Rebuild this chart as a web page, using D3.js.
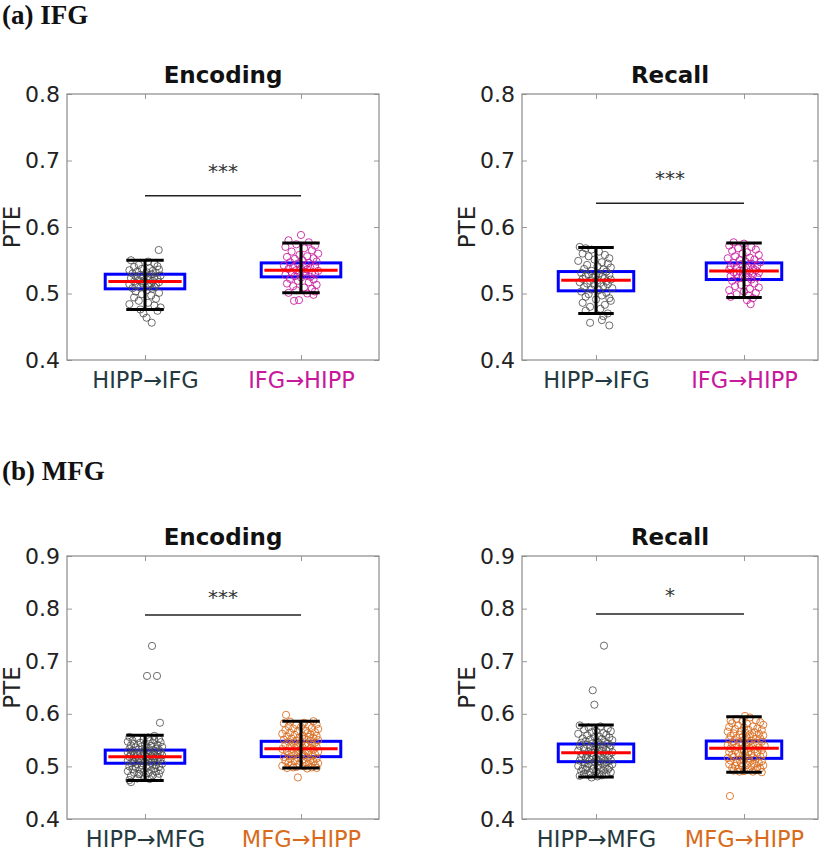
<!DOCTYPE html>
<html><head><meta charset="utf-8">
<script src="https://cdn.jsdelivr.net/npm/d3@7"></script>
<style>body{margin:0;background:#fff}svg{display:block}</style>
</head><body>
<svg id="chart" width="822" height="852"></svg>
<script>
// ---------------- DATA ----------------
const categoriesIFG = ["HIPP→IFG", "IFG→HIPP"];
const categoriesMFG = ["HIPP→MFG", "MFG→HIPP"];
const yTicksIFG = [0.4, 0.5, 0.6, 0.7, 0.8];
const yTicksMFG = [0.4, 0.5, 0.6, 0.7, 0.8, 0.9];
const panelTitles = ["Encoding", "Recall"];
const sectionLabels = ["(a) IFG", "(b) MFG"];

// box stats: [whisker low, q1, median, q3, whisker high]
const statsIfgEnc = [[0.476, 0.507, 0.518, 0.529, 0.550], [0.501, 0.525, 0.535, 0.546, 0.576]];
const statsIfgRec = [[0.470, 0.504, 0.520, 0.533, 0.569], [0.494, 0.521, 0.534, 0.546, 0.576]];
const statsMfgEnc = [[0.473, 0.506, 0.5185, 0.531, 0.559], [0.497, 0.5185, 0.5337, 0.5477, 0.5857]];
const statsMfgRec = [[0.480, 0.509, 0.526, 0.5426, 0.5787], [0.489, 0.5153, 0.5344, 0.5483, 0.5945]];

// significance bars: [height, label]
const sigIfgEnc = [0.647, "***"];
const sigIfgRec = [0.6356, "***"];
const sigMfgEnc = [0.7878, "***"];
const sigMfgRec = [0.7897, "*"];

// individual points: [jitter offset (category units), PTE]
const ptsIfgEncA = [[0.088,0.5654],[0.01,0.4636],[0.043,0.4561],[-0.09,0.550],[0.02,0.548],[0.06,0.545],[-0.04,0.543],[0.08,0.541],[-0.07,0.540],[0.03,0.538],[-0.02,0.537],[0.09,0.536],[-0.10,0.535],[0.05,0.534],[-0.05,0.533],[0.01,0.532],[0.07,0.531],[-0.08,0.530],[0.04,0.529],[-0.03,0.528],[0.10,0.527],[-0.06,0.526],[0.02,0.526],[0.06,0.525],[-0.01,0.524],[-0.09,0.523],[0.08,0.522],[0.03,0.521],[-0.04,0.520],[0.05,0.519],[-0.07,0.518],[0.00,0.518],[0.09,0.517],[-0.02,0.516],[0.04,0.515],[-0.10,0.514],[0.07,0.513],[-0.05,0.512],[0.02,0.511],[0.06,0.510],[-0.03,0.509],[-0.08,0.508],[0.05,0.507],[0.01,0.505],[-0.06,0.503],[0.09,0.501],[-0.02,0.499],[0.04,0.497],[-0.07,0.494],[0.07,0.492],[-0.04,0.489],[0.02,0.486],[-0.10,0.484],[0.06,0.482],[0.10,0.479],[-0.03,0.476],[0.08,0.474],[-0.01,0.470]];
const ptsIfgEncB = [[0,0.588],[-0.08,0.580],[0.05,0.577],[-0.03,0.574],[0.09,0.572],[-0.10,0.570],[0.02,0.568],[0.07,0.565],[-0.06,0.563],[0.11,0.560],[-0.01,0.558],[0.04,0.556],[-0.09,0.555],[0.08,0.553],[-0.04,0.552],[0.01,0.550],[0.10,0.548],[-0.07,0.547],[0.05,0.546],[-0.02,0.545],[0.03,0.543],[-0.11,0.542],[0.09,0.541],[-0.05,0.540],[0.06,0.539],[0.00,0.538],[-0.08,0.537],[0.04,0.536],[-0.03,0.535],[0.11,0.534],[0.02,0.533],[-0.06,0.532],[0.07,0.531],[-0.01,0.530],[0.09,0.529],[-0.10,0.528],[0.03,0.527],[-0.04,0.526],[0.06,0.525],[0.00,0.524],[-0.07,0.522],[0.08,0.521],[-0.02,0.519],[0.05,0.517],[-0.09,0.515],[0.10,0.513],[-0.05,0.511],[0.02,0.509],[0.07,0.507],[-0.03,0.505],[0.09,0.503],[-0.08,0.501],[0.04,0.500],[-0.045,0.489],[-0.013,0.490],[0.08,0.498]];
const ptsIfgRecA = [[-0.11,0.570],[-0.07,0.568],[-0.03,0.566],[0.02,0.563],[-0.09,0.560],[0.06,0.558],[-0.05,0.556],[0.09,0.553],[-0.01,0.551],[-0.12,0.549],[0.04,0.547],[0.08,0.545],[-0.06,0.543],[0.01,0.541],[0.10,0.539],[-0.08,0.537],[0.05,0.536],[-0.03,0.534],[0.07,0.533],[-0.10,0.531],[0.02,0.530],[-0.05,0.529],[0.09,0.528],[0.00,0.527],[-0.07,0.526],[0.04,0.525],[-0.02,0.524],[0.06,0.523],[-0.09,0.522],[0.10,0.521],[0.01,0.520],[-0.04,0.519],[0.07,0.518],[-0.11,0.517],[0.03,0.516],[-0.06,0.515],[0.08,0.514],[-0.01,0.513],[0.05,0.511],[-0.08,0.510],[0.11,0.508],[-0.03,0.506],[0.02,0.505],[-0.10,0.503],[0.07,0.501],[-0.05,0.499],[0.04,0.497],[-0.07,0.495],[0.09,0.493],[0.00,0.491],[0.10,0.489],[-0.09,0.486],[0.06,0.483],[-0.04,0.480],[0.03,0.477],[-0.07,0.474],[0.08,0.470],[0.05,0.466],[-0.04,0.456],[0.09,0.452],[0.04,0.460]];
const ptsIfgRecB = [[-0.07,0.577],[0.00,0.575],[-0.10,0.572],[0.05,0.570],[-0.04,0.568],[0.08,0.566],[-0.08,0.564],[0.02,0.562],[-0.01,0.560],[0.10,0.558],[-0.06,0.556],[0.04,0.554],[-0.11,0.553],[0.07,0.551],[-0.03,0.550],[0.01,0.548],[0.11,0.547],[-0.07,0.546],[0.05,0.545],[-0.02,0.544],[0.09,0.542],[-0.09,0.541],[0.03,0.540],[-0.05,0.539],[0.06,0.538],[0.00,0.537],[-0.10,0.536],[0.08,0.535],[-0.03,0.534],[0.04,0.533],[-0.07,0.532],[0.10,0.531],[0.01,0.530],[-0.05,0.529],[0.06,0.528],[-0.01,0.527],[-0.09,0.526],[0.03,0.525],[0.09,0.524],[-0.04,0.523],[0.05,0.521],[-0.08,0.519],[0.02,0.517],[0.07,0.515],[-0.02,0.513],[-0.06,0.511],[0.10,0.509],[0.04,0.507],[-0.10,0.505],[0.00,0.503],[0.08,0.501],[-0.05,0.499],[0.03,0.497],[-0.09,0.495],[0.06,0.493],[0.045,0.484],[0.02,0.490]];
const ptsMfgEncA = [[0.045,0.729],[0.013,0.672],[0.077,0.672],[0.096,0.583],[-0.09,0.470],[0.06,0.558],[-0.10,0.556],[0.02,0.555],[-0.05,0.553],[0.09,0.552],[-0.01,0.551],[0.06,0.550],[-0.08,0.549],[0.03,0.548],[-0.11,0.547],[0.10,0.546],[-0.03,0.545],[0.05,0.544],[-0.07,0.543],[0.00,0.542],[0.08,0.541],[-0.09,0.540],[0.04,0.539],[-0.02,0.538],[0.11,0.537],[-0.06,0.536],[0.01,0.535],[0.07,0.534],[-0.10,0.533],[-0.04,0.532],[0.09,0.531],[0.03,0.530],[-0.08,0.530],[0.06,0.529],[-0.01,0.528],[-0.11,0.527],[0.10,0.527],[0.02,0.526],[-0.05,0.525],[0.08,0.525],[-0.03,0.524],[0.05,0.523],[-0.09,0.523],[0.00,0.522],[0.11,0.521],[-0.07,0.521],[0.04,0.520],[-0.02,0.519],[0.07,0.519],[-0.10,0.518],[0.01,0.518],[-0.06,0.517],[0.09,0.517],[0.03,0.516],[-0.04,0.515],[0.06,0.515],[-0.08,0.514],[-0.01,0.513],[0.10,0.513],[0.02,0.512],[-0.11,0.511],[0.05,0.511],[-0.03,0.510],[0.08,0.509],[-0.07,0.508],[0.00,0.508],[0.04,0.507],[-0.09,0.506],[0.11,0.505],[-0.05,0.504],[0.07,0.503],[-0.02,0.502],[0.03,0.501],[-0.10,0.500],[0.09,0.499],[-0.06,0.498],[0.01,0.497],[0.06,0.496],[-0.08,0.495],[-0.03,0.494],[0.10,0.493],[0.04,0.492],[-0.11,0.491],[0.07,0.490],[-0.01,0.489],[-0.07,0.488],[0.02,0.487],[0.09,0.486],[-0.04,0.485],[0.05,0.483],[-0.09,0.482],[0.00,0.480],[0.08,0.479],[-0.05,0.477],[0.03,0.476],[-0.10,0.474],[-0.035,0.486]];
const ptsMfgEncB = [[-0.096,0.598],[-0.02,0.479],[0.08,0.586],[-0.07,0.585],[0.02,0.583],[-0.11,0.582],[0.10,0.580],[-0.03,0.579],[0.05,0.577],[-0.08,0.576],[0.00,0.575],[0.07,0.573],[-0.05,0.572],[0.11,0.571],[-0.10,0.569],[0.03,0.568],[-0.02,0.567],[0.09,0.565],[-0.07,0.564],[0.04,0.563],[-0.12,0.562],[0.06,0.561],[-0.04,0.560],[0.01,0.559],[0.10,0.558],[-0.09,0.557],[0.05,0.556],[-0.01,0.555],[0.08,0.554],[-0.06,0.553],[0.02,0.552],[-0.11,0.551],[0.11,0.550],[-0.03,0.549],[0.06,0.548],[-0.08,0.547],[0.00,0.546],[0.09,0.545],[-0.05,0.544],[0.03,0.543],[-0.10,0.542],[0.07,0.541],[-0.02,0.540],[0.04,0.539],[-0.07,0.538],[0.10,0.537],[0.01,0.536],[-0.04,0.535],[0.06,0.534],[-0.12,0.533],[0.08,0.532],[-0.01,0.531],[0.03,0.530],[-0.09,0.529],[0.11,0.528],[-0.06,0.527],[0.05,0.526],[-0.03,0.525],[0.00,0.524],[0.09,0.523],[-0.08,0.522],[0.02,0.521],[-0.05,0.520],[0.07,0.519],[-0.11,0.518],[0.04,0.517],[-0.02,0.516],[0.10,0.515],[-0.07,0.514],[0.01,0.513],[0.06,0.512],[-0.10,0.511],[-0.04,0.510],[0.08,0.509],[0.03,0.508],[-0.08,0.507],[0.11,0.506],[-0.01,0.505],[0.05,0.504],[-0.06,0.503],[0.09,0.502],[-0.12,0.501],[0.02,0.500],[-0.03,0.499],[0.07,0.498],[-0.09,0.497],[0.04,0.496],[0.10,0.497],[-0.05,0.498]];
const ptsMfgRecA = [[0.054,0.7295],[-0.022,0.6447],[-0.011,0.6173],[-0.11,0.578],[0.03,0.576],[-0.05,0.574],[0.08,0.572],[-0.08,0.570],[0.00,0.568],[0.10,0.567],[-0.03,0.565],[0.05,0.563],[-0.12,0.562],[0.07,0.560],[-0.06,0.559],[0.02,0.557],[-0.01,0.556],[0.09,0.555],[-0.09,0.553],[0.04,0.552],[-0.04,0.551],[0.11,0.550],[-0.07,0.548],[0.01,0.547],[0.06,0.546],[-0.10,0.545],[-0.02,0.544],[0.08,0.543],[0.03,0.542],[-0.06,0.541],[0.10,0.540],[-0.11,0.539],[0.00,0.538],[0.05,0.537],[-0.04,0.536],[0.09,0.535],[-0.08,0.534],[0.02,0.533],[-0.01,0.532],[0.07,0.531],[-0.12,0.530],[0.04,0.529],[-0.05,0.528],[0.11,0.527],[-0.03,0.526],[0.01,0.525],[-0.09,0.524],[0.06,0.523],[-0.06,0.522],[0.09,0.521],[0.03,0.520],[-0.02,0.519],[-0.10,0.518],[0.08,0.517],[-0.07,0.516],[0.00,0.515],[0.05,0.514],[-0.04,0.513],[0.10,0.512],[-0.11,0.511],[0.02,0.510],[-0.01,0.509],[0.07,0.508],[-0.08,0.507],[0.04,0.506],[-0.05,0.505],[0.11,0.504],[-0.03,0.503],[0.01,0.502],[-0.12,0.501],[0.06,0.500],[-0.06,0.499],[0.09,0.498],[0.03,0.497],[-0.09,0.496],[-0.02,0.495],[0.08,0.494],[-0.07,0.493],[0.05,0.492],[-0.10,0.491],[0.00,0.490],[0.10,0.489],[-0.04,0.488],[0.02,0.487],[-0.08,0.486],[0.07,0.485],[-0.05,0.484],[0.04,0.483],[-0.11,0.482],[0.01,0.481],[-0.03,0.479]];
const ptsMfgRecB = [[-0.095,0.4437],[0.007,0.596],[-0.09,0.587],[0.04,0.593],[-0.05,0.590],[0.08,0.588],[-0.01,0.586],[0.11,0.584],[-0.08,0.582],[0.02,0.581],[0.13,0.579],[-0.04,0.578],[0.06,0.576],[-0.10,0.575],[0.00,0.574],[0.09,0.572],[-0.06,0.571],[0.03,0.570],[0.12,0.569],[-0.02,0.567],[-0.11,0.566],[0.07,0.565],[0.01,0.564],[-0.07,0.563],[0.10,0.562],[0.04,0.561],[-0.03,0.560],[0.13,0.559],[-0.09,0.558],[0.06,0.557],[-0.01,0.556],[0.02,0.555],[-0.05,0.554],[0.11,0.553],[0.08,0.552],[-0.10,0.551],[0.00,0.550],[0.05,0.549],[-0.07,0.548],[0.12,0.547],[-0.03,0.546],[0.03,0.545],[0.09,0.544],[-0.08,0.543],[-0.01,0.542],[0.06,0.541],[-0.11,0.540],[0.14,0.539],[0.01,0.538],[-0.05,0.537],[0.10,0.536],[0.04,0.535],[-0.09,0.534],[-0.02,0.533],[0.07,0.532],[0.12,0.531],[-0.06,0.530],[0.00,0.529],[0.03,0.528],[-0.10,0.527],[0.09,0.526],[-0.04,0.525],[0.05,0.524],[0.13,0.523],[-0.08,0.522],[0.01,0.521],[-0.01,0.520],[0.11,0.519],[-0.07,0.518],[0.06,0.517],[-0.11,0.516],[0.03,0.515],[0.08,0.514],[-0.03,0.513],[0.00,0.512],[-0.09,0.511],[0.12,0.510],[0.04,0.509],[-0.05,0.508],[0.10,0.507],[-0.02,0.506],[0.07,0.505],[-0.10,0.504],[0.02,0.503],[0.13,0.502],[-0.06,0.501],[0.05,0.500],[-0.01,0.499],[0.09,0.498],[-0.08,0.497],[0.11,0.496],[-0.04,0.495],[0.03,0.494],[0.08,0.493],[-0.07,0.492],[0.00,0.491],[0.06,0.490],[0.12,0.489],[-0.03,0.490]];

// ---------------- STYLE / LAYOUT ----------------
const colHipp = "#4a4a4a", labHipp = "#243a40";
const colIFG = "#c8189c", colMFG = "#d86b1c";
const FONT = "'DejaVu Sans', sans-serif";

const panels = [
  {L:67, R:379, T:94, B:360, title:panelTitles[0], ticks:yTicksIFG, cats:categoriesIFG, stats:statsIfgEnc, sig:sigIfgEnc, pts:[ptsIfgEncA, ptsIfgEncB], col2:colIFG, sigOff:30},
  {L:522, R:818, T:94, B:360, title:panelTitles[1], ticks:yTicksIFG, cats:categoriesIFG, stats:statsIfgRec, sig:sigIfgRec, pts:[ptsIfgRecA, ptsIfgRecB], col2:colIFG, sigOff:30},
  {L:67, R:379, T:556, B:819, title:panelTitles[0], ticks:yTicksMFG, cats:categoriesMFG, stats:statsMfgEnc, sig:sigMfgEnc, pts:[ptsMfgEncA, ptsMfgEncB], col2:colMFG, sigOff:23},
  {L:522, R:818, T:556, B:819, title:panelTitles[1], ticks:yTicksMFG, cats:categoriesMFG, stats:statsMfgRec, sig:sigMfgRec, pts:[ptsMfgRecA, ptsMfgRecB], col2:colMFG, sigOff:24}
];

const svg = d3.select("#chart");
svg.append("rect").attr("width",822).attr("height",852).attr("fill","#fff");

svg.append("text").attr("x",2).attr("y",24).text(sectionLabels[0])
  .attr("font-family","'Liberation Serif', 'Times New Roman', serif").attr("font-weight","bold").attr("font-size",27).attr("fill","#111");
svg.append("text").attr("x",2).attr("y",480).text(sectionLabels[1])
  .attr("font-family","'Liberation Serif', 'Times New Roman', serif").attr("font-weight","bold").attr("font-size",27).attr("fill","#111");

panels.forEach(p => {
  const x = d3.scaleLinear().domain([0.5, 2.5]).range([p.L, p.R]);
  const y = d3.scaleLinear().domain([p.ticks[0], p.ticks[p.ticks.length-1]]).range([p.B, p.T]);
  const g = svg.append("g");

  // title
  g.append("text").attr("x",(p.L+p.R)/2).attr("y",p.T-11).attr("text-anchor","middle")
    .attr("font-family",FONT).attr("font-weight","bold").attr("font-size",23).attr("fill","#111").text(p.title);

  // axes (left with labels)
  const yAxis = d3.axisLeft(y).tickValues(p.ticks).tickFormat(d3.format(".1f")).tickSize(-5).tickPadding(7);
  const ga = g.append("g").attr("transform",`translate(${p.L},0)`).call(yAxis);
  ga.select(".domain").remove();
  ga.selectAll(".tick line").attr("stroke","#999");
  ga.selectAll(".tick text").attr("font-family",FONT).attr("font-size",22).attr("fill","#222");

  const yAxisR = d3.axisRight(y).tickValues(p.ticks).tickFormat("").tickSize(-5);
  const gr = g.append("g").attr("transform",`translate(${p.R},0)`).call(yAxisR);
  gr.select(".domain").remove();
  gr.selectAll(".tick line").attr("stroke","#999");

  const xAxis = d3.axisBottom(x).tickValues([1,2]).tickFormat((d,i)=>p.cats[i]).tickSize(-5).tickPadding(12);
  const gx = g.append("g").attr("transform",`translate(0,${p.B})`).call(xAxis);
  gx.select(".domain").remove();
  gx.selectAll(".tick line").attr("stroke","#999");
  gx.selectAll(".tick text").attr("font-family",FONT).attr("font-size",22.5)
    .attr("fill",(d,i)=> i===0 ? labHipp : p.col2);

  const xAxisT = d3.axisTop(x).tickValues([1,2]).tickFormat("").tickSize(-5);
  const gt = g.append("g").attr("transform",`translate(0,${p.T})`).call(xAxisT);
  gt.select(".domain").remove();
  gt.selectAll(".tick line").attr("stroke","#999");

  g.append("rect").attr("x",p.L).attr("y",p.T).attr("width",p.R-p.L).attr("height",p.B-p.T)
    .attr("fill","none").attr("stroke","#8a8a8a").attr("stroke-width",1.2);

  // y label
  g.append("text").attr("transform",`translate(${p.L-47},${(p.T+p.B)/2}) rotate(-90)`)
    .attr("text-anchor","middle").attr("font-family",FONT).attr("font-size",23).attr("fill","#222").text("PTE");

  // boxes
  p.stats.forEach((s,i) => {
    const cx = i+1;
    g.append("rect").attr("x",x(cx-0.255)).attr("y",y(s[3])).attr("width",x(cx+0.255)-x(cx-0.255))
      .attr("height",y(s[1])-y(s[3])).attr("fill","none").attr("stroke","#0000ff").attr("stroke-width",3);
  });
  // points
  p.pts.forEach((arr,i) => {
    const cx = i+1;
    g.append("g").selectAll("circle").data(arr).join("circle")
      .attr("cx",d=>x(cx+d[0])).attr("cy",d=>y(d[1])).attr("r",3.6)
      .attr("fill","none").attr("stroke", i===0 ? colHipp : p.col2).attr("stroke-width",1)
      .attr("stroke-opacity", i===0 ? 0.8 : 0.85);
  });
  // medians & whiskers
  p.stats.forEach((s,i) => {
    const cx = i+1;
    g.append("line").attr("x1",x(cx-0.235)).attr("x2",x(cx+0.235)).attr("y1",y(s[2])).attr("y2",y(s[2]))
      .attr("stroke","#ff0000").attr("stroke-width",3);
    g.append("line").attr("x1",x(cx)).attr("x2",x(cx)).attr("y1",y(s[0])).attr("y2",y(s[4]))
      .attr("stroke","#000").attr("stroke-width",3);
    [s[0], s[4]].forEach(v => {
      g.append("line").attr("x1",x(cx-0.12)).attr("x2",x(cx+0.12)).attr("y1",y(v)).attr("y2",y(v))
        .attr("stroke","#000").attr("stroke-width",3);
    });
  });
  // significance
  g.append("line").attr("x1",x(1)).attr("x2",x(2)).attr("y1",y(p.sig[0])).attr("y2",y(p.sig[0]))
    .attr("stroke","#222").attr("stroke-width",1.5);
  g.append("text").attr("x",x(1.5)).attr("y",y(p.sig[0])-p.sigOff+12).attr("text-anchor","middle")
    .attr("font-family",FONT).attr("font-size",20).attr("fill","#333").text(p.sig[1]);
});
</script>
</body></html>
